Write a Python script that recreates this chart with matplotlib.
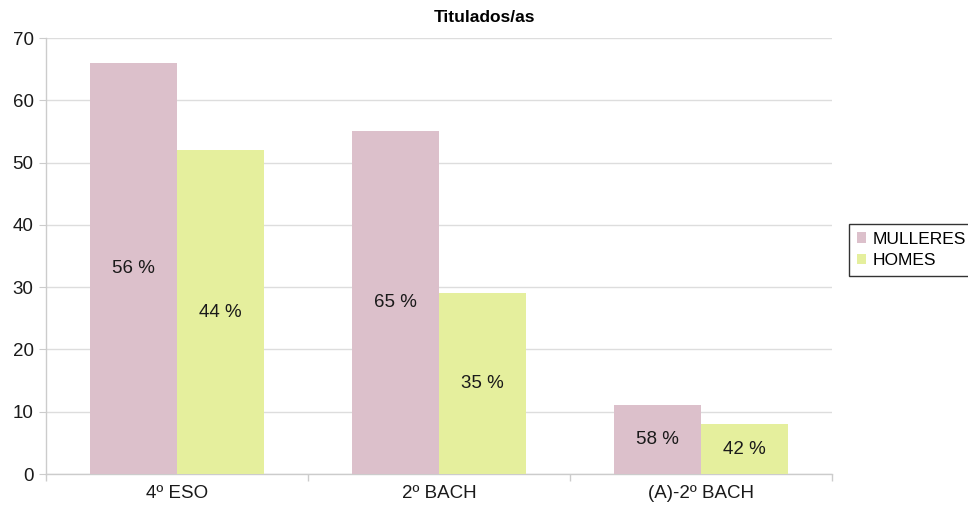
import matplotlib
matplotlib.use("Agg")
import matplotlib.pyplot as plt
import numpy as np
from matplotlib.patches import Patch

plt.rcParams['font.family'] = ['Liberation Sans', 'DejaVu Sans']

categories = ["4º ESO", "2º BACH", "(A)-2º BACH"]
mulleres = [66, 55, 11]
homes = [52, 29, 8]
pct_mulleres = ["56 %", "65 %", "58 %"]
pct_homes = ["44 %", "35 %", "42 %"]
series_names = ["MULLERES", "HOMES"]
c_m = "#dcc0cb"
c_h = "#e5ef9d"

FS = 13.5

fig = plt.figure(figsize=(9.68, 5.11), dpi=100)
ax = fig.add_axes([46/968, 37/511, (832-46)/968, (474-38)/511])

x = np.arange(len(categories))
w = 0.332
ax.bar(x - w/2, mulleres, w, color=c_m, zorder=3)
ax.bar(x + w/2, homes, w, color=c_h, zorder=3)
for xi, v, t in zip(x, mulleres, pct_mulleres):
    ax.text(xi - w/2, v/2, t, ha='center', va='center', fontsize=FS, color='#1a1a1a', zorder=4)
for xi, v, t in zip(x, homes, pct_homes):
    ax.text(xi + w/2, v/2, t, ha='center', va='center', fontsize=FS, color='#1a1a1a', zorder=4)

ax.set_xlim(-0.5, 2.5)
ax.set_ylim(0, 70)
ax.set_yticks(range(0, 71, 10))
ax.yaxis.grid(True, color='#dddddd', linewidth=1, zorder=0)
ax.set_xticks(x)
ax.set_xticklabels(categories)
ax.set_xticks([-0.5, 0.5, 1.5, 2.5], minor=True)
ax.tick_params(axis='x', which='major', length=0, labelsize=FS, pad=8, colors='#1a1a1a')
ax.tick_params(axis='x', which='minor', length=5, color='#cccccc', width=1)
ax.tick_params(axis='y', length=5, labelsize=FS, pad=4, colors='#1a1a1a')
ax.tick_params(axis='y', color='#cccccc')
for s in ['top', 'right']:
    ax.spines[s].set_visible(False)
for s in ['left', 'bottom']:
    ax.spines[s].set_color('#cccccc')
    ax.spines[s].set_linewidth(1)

fig.text(0.5, 1 - 18/511, "Titulados/as", ha='center', va='center', fontsize=12.5, fontweight='bold')

handles = [Patch(facecolor=c_m, edgecolor='none'), Patch(facecolor=c_h, edgecolor='none')]
leg = fig.legend(handles, series_names, loc='upper left', bbox_to_anchor=(849/968, 1 - 224/511),
                 fontsize=12.5, frameon=True, fancybox=False, edgecolor='black',
                 handlelength=0.55, handleheight=0.55, handletextpad=0.35, borderpad=0.45,
                 labelspacing=0.35, borderaxespad=0)
leg.get_frame().set_linewidth(1)

fig.savefig("out.png", dpi=100)
